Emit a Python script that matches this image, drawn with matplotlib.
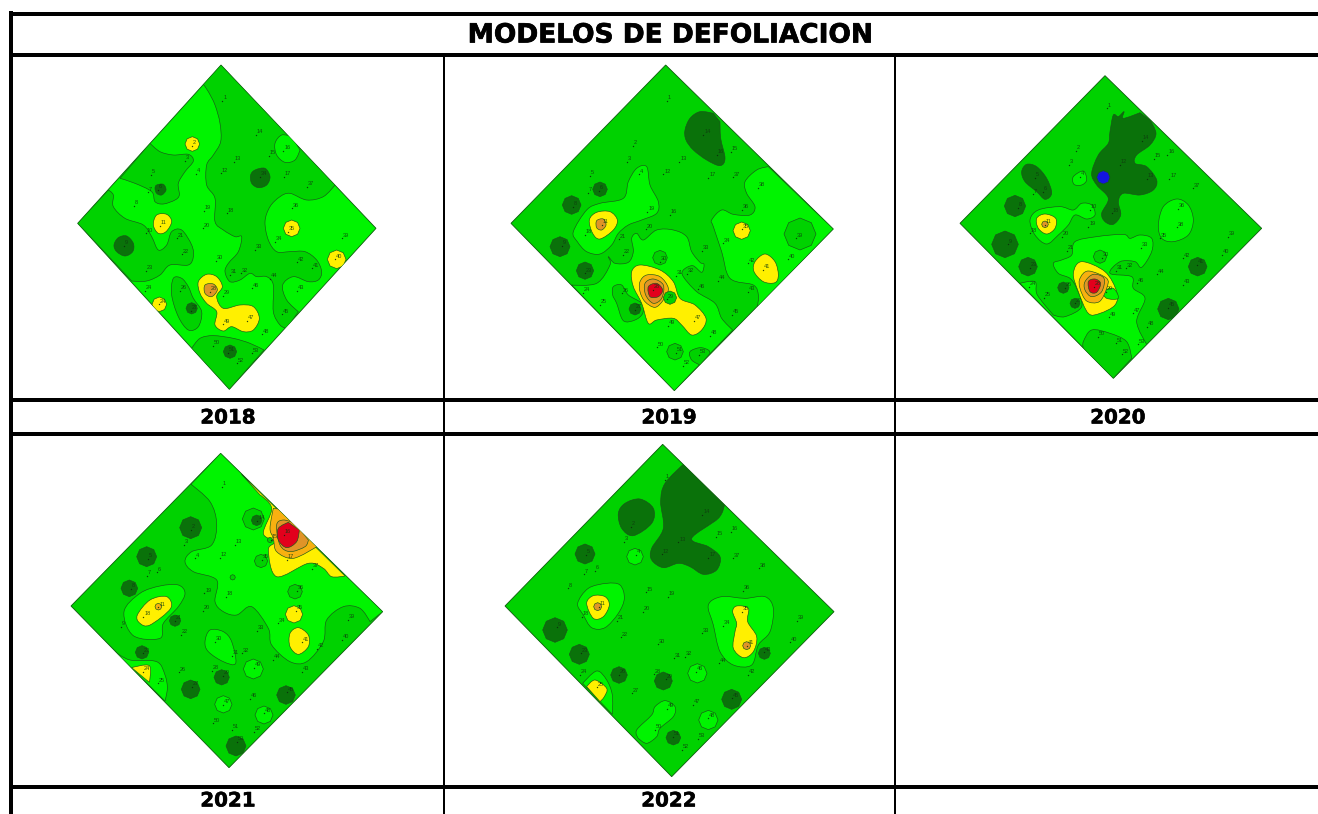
import matplotlib
matplotlib.use('Agg')
import matplotlib.pyplot as plt
import matplotlib.patheffects as pe
from matplotlib.patches import PathPatch, Polygon, RegularPolygon
from matplotlib.path import Path

# colors for each defoliation level
DARK = '#0a720a'
MID = '#00d200'
LIGHT = '#00f400'
YELLOW = '#fff000'
ORANGE = '#f8b010'
ORANGE2 = '#e09428'
RED = '#e2001c'
BLUE = '#1414e0'

TITLE = 'MODELOS DE DEFOLIACION'
years = ['2018', '2019', '2020', '2021', '2022']
year_x = [228, 669, 1118, 228, 669]
year_y = [418, 418, 418, 801, 801]

origins = [(60, 55), (500, 55), (950, 65), (60, 445), (495, 435)]
bases = [LIGHT, MID, MID, MID, MID]
diamonds = [
    [(483, 30), (948, 520), (508, 1003), (53, 505)],
    [(497, 30), (1000, 522), (523, 1007), (33, 505)],
    [(465, 32), (935, 490), (490, 940), (30, 475)],
    [(482, 25), (968, 500), (507, 968), (33, 483)],
    [(503, 28), (1017, 530), (530, 1025), (30, 513)],
]

# zones: (level color, outline)
zones_2018 = [
    (MID, [(430, 88), (445, 110), (465, 150), (480, 205), (482, 260), (460, 300), (440, 330), (440, 390), (465, 430), (465, 500), (490, 525), (525, 545), (545, 545), (535, 590), (505, 625), (495, 650), (510, 680), (540, 675), (570, 655), (590, 665), (620, 665), (640, 690), (640, 770), (660, 810), (680, 820), (715, 770), (680, 735), (668, 690), (700, 665), (745, 680), (775, 675), (785, 650), (770, 615), (735, 590), (690, 590), (650, 590), (625, 555), (615, 500), (630, 455), (660, 425), (690, 415), (740, 435), (790, 425), (825, 390), (483, 30)]),
    (LIGHT, [(665, 240), (695, 245), (720, 285), (705, 315), (675, 322), (650, 300), (645, 265)]),
    (DARK, [(585, 345), (615, 340), (630, 365), (620, 390), (595, 398), (575, 385), (572, 360)]),
    (MID, [(270, 265), (300, 290), (340, 300), (385, 298), (400, 318), (375, 350), (355, 385), (358, 420), (345, 435), (310, 447), (285, 440), (275, 410), (225, 385), (180, 370)]),
    (DARK, [(290, 390), (310, 388), (318, 405), (305, 420), (290, 415), (285, 400)]),
    (MID, [(145, 405), (160, 420), (160, 455), (195, 490), (250, 510), (275, 545), (295, 585), (320, 570), (335, 530), (365, 525), (395, 570), (400, 605), (385, 630), (330, 630), (300, 660), (260, 678), (215, 678), (53, 505)]),
    (DARK, [(175, 548), (200, 543), (220, 565), (218, 590), (195, 603), (170, 590), (162, 570)]),
    (YELLOW, [(290, 480), (320, 478), (335, 500), (318, 530), (295, 535), (280, 510)]),
    (YELLOW, [(415, 680), (440, 658), (470, 665), (487, 695), (470, 725), (490, 760), (540, 750), (580, 755), (598, 790), (580, 825), (550, 830), (515, 815), (490, 828), (465, 810), (470, 770), (440, 745), (420, 715)]),
    (ORANGE2, [(435, 690), (460, 687), (472, 705), (455, 725), (435, 715)]),
    (MID, [(340, 670), (365, 670), (385, 695), (400, 730), (425, 770), (415, 815), (385, 825), (355, 785), (335, 720)]),
    (MID, [(395, 880), (420, 850), (460, 842), (520, 850), (570, 865), (612, 885), (508, 1003)]),
]
spots_2018 = [(YELLOW, 397, 267, 22), (YELLOW, 695, 520, 25), (YELLOW, 830, 613, 28), (YELLOW, 298, 748, 22), (DARK, 395, 760, 17), (DARK, 510, 890, 20)]

zones_2019 = [
    (DARK, [(555, 225), (570, 190), (600, 170), (640, 175), (660, 200), (662, 250), (675, 310), (660, 332), (620, 315), (580, 285), (558, 255)]),
    (LIGHT, [(215, 690), (290, 685), (330, 630), (325, 605), (345, 625), (385, 622), (400, 590), (395, 550), (410, 535), (430, 555), (470, 525), (520, 525), (560, 545), (575, 590), (600, 622), (612, 628), (605, 652), (578, 632), (550, 645), (550, 665), (590, 710), (645, 745), (665, 790), (698, 825), (523, 1007)]),
    (LIGHT, [(805, 335), (770, 345), (735, 380), (740, 415), (765, 455), (750, 480), (700, 478), (665, 465), (635, 495), (640, 515), (665, 590), (690, 670), (760, 690), (775, 720), (772, 755), (1000, 522)]),
    (YELLOW, [(765, 620), (795, 597), (825, 620), (835, 660), (825, 683), (790, 680), (762, 650)]),
    (LIGHT, [(220, 530), (260, 465), (300, 445), (370, 430), (385, 380), (410, 340), (440, 335), (450, 390), (475, 440), (470, 475), (425, 495), (385, 510), (355, 535), (335, 570), (300, 597), (260, 590), (232, 560)]),
    (YELLOW, [(268, 495), (290, 472), (330, 470), (352, 495), (340, 525), (300, 552), (278, 535)]),
    (ORANGE2, [(290, 497), (310, 492), (318, 510), (305, 525), (290, 518)]),
    (MID, [(340, 695), (365, 690), (385, 720), (425, 745), (428, 775), (405, 795), (370, 797), (350, 745), (338, 720)]),
    (YELLOW, [(395, 650), (420, 630), (480, 645), (520, 680), (540, 730), (585, 750), (618, 790), (605, 825), (575, 840), (545, 810), (520, 790), (470, 795), (445, 805), (425, 745), (400, 695)]),
    (ORANGE, [(420, 680), (440, 660), (480, 665), (505, 700), (490, 735), (465, 757), (435, 740), (420, 710)]),
    (ORANGE2, [(435, 685), (460, 672), (490, 690), (485, 730), (460, 745), (437, 720)]),
    (RED, [(445, 695), (470, 685), (488, 705), (475, 725), (450, 725)]),
    (MID, [(570, 890), (600, 878), (625, 885), (630, 895), (600, 930), (575, 915)]),
]
spots_2019 = [(MID, 900, 537, 48), (YELLOW, 725, 527, 26), (DARK, 300, 403, 22), (DARK, 215, 450, 28), (DARK, 180, 575, 30), (DARK, 255, 647, 26), (MID, 480, 608, 22), (DARK, 405, 762, 18), (MID, 510, 728, 20), (MID, 525, 890, 25)]

zones_2020 = [
    (DARK, [(480, 200), (490, 150), (505, 155), (522, 140), (520, 160), (570, 143), (600, 165), (618, 205), (600, 240), (560, 270), (555, 295), (590, 305), (620, 345), (610, 375), (570, 390), (520, 385), (505, 410), (512, 450), (490, 478), (465, 470), (455, 445), (475, 400), (440, 360), (425, 325), (445, 270), (475, 235)]),
    (DARK, [(215, 320), (230, 298), (260, 305), (290, 340), (305, 385), (285, 403), (260, 380), (225, 350)]),
    (LIGHT, [(240, 465), (265, 435), (330, 425), (370, 435), (395, 415), (425, 420), (435, 450), (410, 462), (375, 450), (355, 480), (325, 510), (290, 537), (255, 510)]),
    (YELLOW, [(260, 460), (285, 447), (317, 460), (315, 490), (290, 507), (265, 490)]),
    (LIGHT, [(370, 335), (400, 318), (410, 345), (395, 360), (372, 358)]),
    (LIGHT, [(625, 480), (640, 425), (680, 402), (715, 420), (730, 465), (715, 510), (670, 530), (635, 520)]),
    (LIGHT, [(310, 595), (335, 585), (365, 570), (375, 530), (440, 515), (520, 508), (540, 520), (570, 510), (605, 520), (605, 560), (575, 607), (555, 590), (510, 590), (480, 625), (545, 635), (550, 670), (585, 700), (560, 770), (590, 838), (490, 940), (210, 655), (255, 650), (262, 690), (310, 750), (345, 755), (395, 725), (380, 670), (360, 640), (325, 625)]),
    (MID, [(400, 830), (425, 795), (480, 805), (530, 830), (545, 880), (490, 940), (400, 850)]),
    (YELLOW, [(370, 625), (395, 590), (465, 620), (500, 680), (495, 720), (450, 745), (415, 745), (385, 680)]),
    (LIGHT, [(460, 680), (490, 670), (505, 700), (470, 700)]),
    (ORANGE, [(390, 640), (415, 618), (470, 640), (470, 670), (448, 710), (410, 708), (390, 670)]),
    (ORANGE2, [(405, 650), (430, 628), (462, 640), (455, 680), (425, 695), (405, 675)]),
    (RED, [(415, 650), (435, 642), (452, 655), (440, 682), (420, 680)]),
]
spots_2020 = [(BLUE, 460, 337, 20), (DARK, 195, 423, 32), (DARK, 165, 538, 40), (DARK, 234, 605, 28), (DARK, 340, 668, 17), (DARK, 375, 715, 15), (DARK, 655, 732, 32), (DARK, 743, 605, 28), (ORANGE2, 285, 478, 10), (MID, 450, 575, 20)]

zones_2021 = [
    (LIGHT, [(393, 118), (450, 170), (470, 235), (455, 300), (395, 320), (375, 350), (400, 380), (470, 405), (465, 470), (490, 500), (530, 510), (575, 485), (625, 550), (635, 600), (690, 650), (740, 650), (790, 590), (800, 525), (850, 485), (900, 490), (930, 530), (968, 500), (482, 25)]),
    (YELLOW, [(545, 88), (600, 150), (635, 190), (610, 265), (645, 290), (625, 315), (650, 395), (745, 355), (790, 370), (815, 395), (855, 393)]),
    (ORANGE, [(640, 190), (655, 192), (710, 225), (770, 305), (700, 340), (650, 320), (640, 280), (630, 250)]),
    (ORANGE2, [(650, 240), (670, 225), (705, 235), (745, 285), (735, 305), (690, 320), (660, 300)]),
    (RED, [(655, 250), (685, 232), (718, 255), (710, 290), (680, 308), (655, 285)]),
    (YELLOW, [(690, 565), (715, 548), (745, 570), (745, 605), (715, 628), (690, 605)]),
    (LIGHT, [(192, 500), (240, 445), (300, 423), (355, 420), (375, 445), (355, 485), (310, 535), (300, 580), (220, 572)]),
    (YELLOW, [(232, 510), (270, 465), (320, 455), (332, 490), (270, 540), (240, 535)]),
    (LIGHT, [(435, 590), (450, 555), (490, 560), (515, 590), (527, 655), (490, 650), (445, 620)]),
    (LIGHT, [(165, 620), (210, 645), (290, 650), (315, 690), (322, 730), (315, 768)]),
    (YELLOW, [(215, 668), (268, 662), (268, 712)]),
]
spots_2021 = [(MID, 580, 222, 33), (DARK, 590, 226, 16), (MID, 603, 348, 20), (MID, 705, 440, 22), (MID, 518, 397, 8), (MID, 630, 285, 8), (YELLOW, 702, 508, 26), (DARK, 392, 248, 33), (DARK, 260, 335, 30), (DARK, 208, 430, 25), (DARK, 345, 527, 17), (DARK, 246, 622, 20), (DARK, 392, 733, 28), (DARK, 485, 697, 23), (DARK, 678, 750, 28), (DARK, 528, 903, 30), (ORANGE, 295, 485, 10), (LIGHT, 580, 672, 30), (LIGHT, 490, 778, 26), (LIGHT, 612, 810, 27)]

zones_2022 = [
    (DARK, [(497, 200), (510, 145), (565, 88), (688, 210), (670, 250), (590, 310), (640, 335), (675, 365), (665, 405), (625, 418), (585, 395), (550, 385), (505, 398), (470, 375), (470, 340), (505, 280)]),
    (DARK, [(370, 235), (390, 205), (435, 192), (475, 220), (470, 265), (415, 302), (380, 280)]),
    (LIGHT, [(248, 505), (280, 460), (335, 445), (375, 450), (388, 490), (370, 535), (330, 578), (290, 578), (265, 540)]),
    (YELLOW, [(275, 505), (295, 482), (330, 485), (343, 510), (325, 545), (295, 550)]),
    (LIGHT, [(640, 510), (680, 485), (750, 490), (810, 485), (835, 520), (825, 590), (790, 630), (770, 690), (715, 690), (675, 650), (655, 570)]),
    (YELLOW, [(713, 530), (725, 513), (760, 520), (758, 560), (785, 605), (775, 650), (745, 668), (715, 640), (720, 590), (725, 565)]),
    (LIGHT, [(263, 745), (305, 708), (335, 735), (352, 780), (352, 838)]),
    (YELLOW, [(275, 755), (300, 735), (335, 760), (328, 785), (315, 800)]),
    (LIGHT, [(425, 885), (470, 840), (480, 815), (510, 797), (540, 815), (535, 845), (495, 880), (485, 905), (455, 925), (430, 910)]),
]
spots_2022 = [(DARK, 270, 357, 30), (DARK, 180, 585, 37), (DARK, 253, 658, 30), (DARK, 372, 720, 25), (DARK, 505, 738, 27), (DARK, 710, 793, 30), (DARK, 808, 655, 18), (DARK, 535, 908, 22), (LIGHT, 420, 365, 25), (LIGHT, 607, 715, 29), (LIGHT, 640, 855, 29), (ORANGE2, 308, 515, 12), (ORANGE2, 755, 632, 12)]

# sample points (x, y, number)
points_2018 = [(487, 137, 1), (397, 272, 2), (375, 318, 3), (407, 357, 4), (273, 360, 5), (295, 405, 6), (265, 412, 7), (222, 452, 8), (193, 572, 9), (300, 512, 11), (483, 355, 12), (522, 320, 13), (587, 240, 14), (627, 302, 15), (670, 287, 16), (600, 365, 34), (672, 365, 17), (740, 395, 37), (500, 475, 18), (432, 467, 19), (428, 520, 20), (352, 550, 21), (365, 598, 22), (258, 648, 23), (255, 708, 24), (258, 535, 10), (360, 707, 26), (392, 767, 27), (450, 710, 28), (488, 722, 29), (468, 618, 30), (510, 660, 31), (542, 655, 32), (585, 585, 33), (645, 560, 34), (685, 530, 35), (697, 460, 36), (845, 550, 39), (710, 622, 42), (755, 640, 41), (630, 672, 44), (712, 708, 43), (667, 778, 45), (575, 700, 46), (562, 797, 47), (490, 808, 49), (607, 838, 48), (458, 872, 50), (505, 893, 51), (530, 925, 52), (577, 895, 53), (298, 748, 24), (825, 613, 40)]
points_2019 = [(500, 138, 1), (400, 272, 2), (380, 320, 3), (418, 358, 4), (270, 362, 5), (298, 408, 6), (265, 413, 7), (220, 455, 8), (185, 573, 9), (305, 510, 11), (255, 540, 18), (490, 358, 12), (538, 320, 13), (610, 240, 14), (693, 290, 15), (650, 300, 16), (625, 368, 17), (700, 367, 37), (510, 480, 16), (442, 470, 19), (437, 523, 20), (358, 553, 21), (370, 600, 22), (255, 655, 23), (250, 713, 24), (300, 750, 25), (365, 715, 26), (405, 765, 27), (460, 705, 28), (500, 733, 29), (480, 620, 30), (528, 662, 31), (560, 657, 32), (607, 587, 33), (670, 565, 34), (725, 523, 35), (727, 465, 36), (773, 398, 38), (888, 550, 39), (865, 613, 40), (790, 645, 41), (743, 625, 42), (743, 710, 43), (655, 678, 44), (697, 780, 45), (593, 703, 46), (582, 798, 47), (630, 842, 48), (505, 812, 49), (470, 877, 50), (527, 893, 51), (548, 932, 52), (598, 900, 53)]
points_2020 = [(470, 130, 1), (378, 258, 2), (358, 300, 3), (390, 335, 4), (255, 338, 5), (280, 380, 6), (250, 388, 7), (205, 428, 8), (175, 538, 9), (285, 480, 11), (240, 505, 18), (415, 485, 19), (335, 515, 20), (350, 558, 21), (240, 608, 23), (238, 665, 24), (283, 698, 25), (345, 668, 26), (375, 715, 27), (432, 665, 28), (468, 680, 29), (455, 578, 30), (497, 617, 31), (528, 610, 32), (572, 548, 33), (510, 300, 12), (575, 228, 14), (612, 282, 15), (652, 270, 16), (590, 342, 13), (658, 342, 17), (730, 370, 37), (420, 435, 10), (485, 445, 18), (685, 432, 36), (682, 487, 38), (630, 520, 35), (835, 515, 39), (815, 570, 40), (742, 600, 41), (700, 580, 42), (620, 628, 44), (560, 655, 46), (700, 660, 43), (655, 728, 45), (548, 745, 47), (478, 757, 49), (592, 785, 48), (443, 815, 50), (497, 835, 51), (517, 868, 52), (563, 838, 53)]
points_2021 = [(485, 125, 1), (392, 255, 2), (372, 300, 3), (405, 340, 4), (263, 342, 5), (290, 382, 6), (260, 392, 7), (213, 432, 8), (183, 545, 9), (295, 487, 11), (250, 515, 18), (480, 338, 12), (525, 300, 13), (592, 228, 14), (632, 285, 15), (672, 270, 16), (605, 345, 35), (680, 345, 17), (755, 372, 37), (497, 455, 18), (433, 445, 19), (428, 498, 20), (345, 527, 21), (362, 570, 22), (248, 625, 23), (250, 680, 24), (295, 715, 25), (358, 682, 26), (397, 725, 27), (465, 590, 30), (515, 632, 31), (547, 625, 32), (592, 558, 33), (655, 535, 34), (708, 498, 35), (710, 437, 36), (863, 525, 39), (845, 585, 40), (725, 592, 41), (770, 612, 42), (640, 645, 44), (725, 680, 43), (680, 742, 45), (570, 762, 46), (490, 780, 47), (612, 805, 48), (458, 835, 50), (515, 855, 51), (583, 860, 52), (532, 890, 53), (457, 677, 28), (488, 693, 29), (582, 668, 49)]
points_2022 = [(510, 135, 1), (408, 275, 2), (387, 320, 3), (422, 360, 4), (272, 360, 5), (300, 408, 6), (267, 418, 7), (220, 460, 8), (185, 577, 9), (312, 515, 11), (260, 545, 18), (500, 358, 12), (550, 322, 13), (622, 240, 14), (663, 305, 15), (708, 290, 16), (640, 368, 17), (715, 370, 37), (792, 400, 38), (518, 485, 19), (452, 472, 15), (443, 530, 20), (365, 558, 21), (378, 607, 22), (490, 628, 30), (258, 655, 23), (255, 720, 24), (305, 757, 25), (372, 720, 26), (410, 775, 27), (478, 718, 28), (513, 733, 29), (537, 670, 31), (570, 665, 32), (620, 595, 33), (685, 572, 34), (740, 530, 35), (745, 468, 36), (905, 558, 39), (885, 622, 40), (755, 632, 41), (672, 685, 44), (808, 652, 43), (760, 720, 42), (712, 790, 45), (603, 710, 46), (595, 810, 47), (640, 850, 48), (515, 822, 49), (480, 885, 50), (535, 905, 51), (560, 945, 52), (610, 912, 53)]

all_zones = [zones_2018, zones_2019, zones_2020, zones_2021, zones_2022]
all_spots = [spots_2018, spots_2019, spots_2020, spots_2021, spots_2022]
all_points = [points_2018, points_2019, points_2020, points_2021, points_2022]

# table lines: (position, start, end, thickness in px)
h_lines = [(14, 9, 1318, 4), (55, 9, 1318, 4), (400, 9, 1318, 4), (434, 9, 1318, 4), (787, 9, 1318, 4)]
v_lines = [(11, 11, 814, 4), (444, 55, 814, 2), (895, 55, 814, 2)]

fig = plt.figure(figsize=(13.18, 8.14), dpi=100)
ax = fig.add_axes([0, 0, 1, 1])
ax.set_xlim(0, 1318)
ax.set_ylim(814, 0)
ax.axis('off')


def to_px(origin, xy):
    return [(origin[0] + x / 3, origin[1] + y / 3) for x, y in xy]


def on_edge(p, diamond):
    # keep vertices on the plot edge sharp
    for i in range(4):
        ax_, ay_ = diamond[i]
        bx, by = diamond[(i + 1) % 4]
        dx, dy = bx - ax_, by - ay_
        t = ((p[0] - ax_) * dx + (p[1] - ay_) * dy) / (dx * dx + dy * dy)
        t = min(1, max(0, t))
        if (p[0] - ax_ - t * dx) ** 2 + (p[1] - ay_ - t * dy) ** 2 < 100:
            return True
    return False


def smooth_path(outline, diamond, origin):
    # catmull-rom as bezier segments so contours are round
    n = len(outline)
    pts = to_px(origin, outline)
    sharp = [on_edge(p, diamond) for p in outline]
    verts = [pts[0]]
    codes = [Path.MOVETO]
    for i in range(n):
        p0, p1, p2, p3 = pts[i - 1], pts[i], pts[(i + 1) % n], pts[(i + 2) % n]
        t1 = 0 if sharp[i] else 1 / 6
        t2 = 0 if sharp[(i + 1) % n] else 1 / 6
        verts.append((p1[0] + (p2[0] - p0[0]) * t1, p1[1] + (p2[1] - p0[1]) * t1))
        verts.append((p2[0] - (p3[0] - p1[0]) * t2, p2[1] - (p3[1] - p1[1]) * t2))
        verts.append(p2)
        codes += [Path.CURVE4] * 3
    return Path(verts, codes)


def draw_map(origin, base, diamond, zones, spots, points):
    d = Polygon(to_px(origin, diamond), closed=True, fc=base, ec='#0a5a0a', lw=0.6, zorder=1)
    ax.add_patch(d)
    # bigger zones first, spots go on top
    for color, outline in zones:
        p = PathPatch(smooth_path(outline, diamond, origin), fc=color, ec='#1a551a', lw=0.45, zorder=2)
        ax.add_patch(p)
        p.set_clip_path(d)
    for color, x, y, r in spots:
        cx, cy = to_px(origin, [(x, y)])[0]
        p = RegularPolygon((cx, cy), 8, radius=r / 3, fc=color, ec='#1a551a', lw=0.45, zorder=3)
        ax.add_patch(p)
        p.set_clip_path(d)
    for x, y, n in points:
        cx, cy = to_px(origin, [(x, y)])[0]
        ax.plot([cx], [cy], 'o', ms=1.0, mew=0, color='#0a2a0a', alpha=0.85, zorder=4)
        ax.text(cx + 0.8, cy - 0.8, str(n), fontsize=4, color='#0f3a0f', alpha=0.85, family='Liberation Sans', va='bottom', ha='left', zorder=4)


for i in range(len(years)):
    draw_map(origins[i], bases[i], diamonds[i], all_zones[i], all_spots[i], all_points[i])
    ax.text(year_x[i], year_y[i], years[i], fontsize=14.3, fontweight='bold', family='DejaVu Sans', ha='center', va='center', color='black', zorder=6,
            path_effects=[pe.withStroke(linewidth=0.4, foreground='black')])

for y, x0, x1, w in h_lines:
    ax.hlines(y, x0, x1, color='black', lw=w * 0.72, zorder=5)
for x, y0, y1, w in v_lines:
    ax.vlines(x, y0, y1, color='black', lw=w * 0.72, zorder=5)

ax.text(670, 35.5, TITLE, fontsize=19, fontweight='bold', family='DejaVu Sans', ha='center', va='center', color='black', zorder=6,
        path_effects=[pe.withStroke(linewidth=0.5, foreground='black')])

fig.savefig('out.png', dpi=100)
